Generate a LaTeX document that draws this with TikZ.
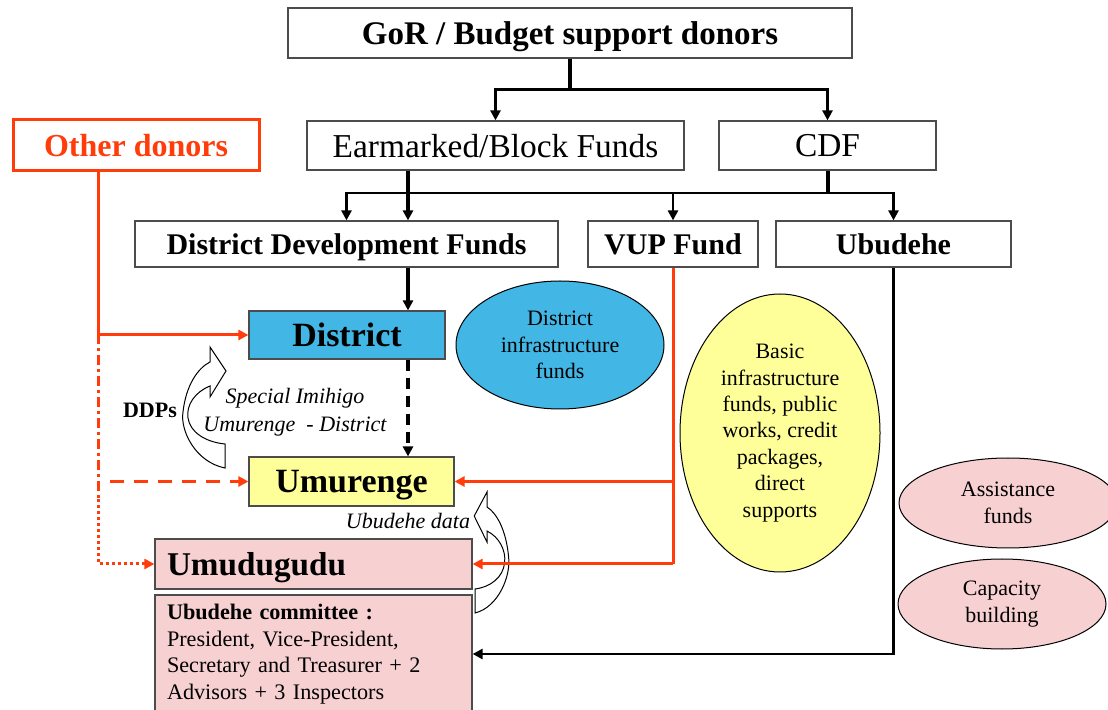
\documentclass[tikz,border=0pt]{standalone}
\usepackage{fontspec}
\setmainfont{Liberation Serif}
\usetikzlibrary{arrows.meta,calc,shapes.geometric}

\definecolor{donorred}{RGB}{255,60,10}
\definecolor{districtblue}{RGB}{66,183,230}
\definecolor{sectoryellow}{RGB}{255,255,153}
\definecolor{cellpink}{RGB}{247,208,210}

\tikzset{
  box/.style={draw=black!70, line width=0.6pt, inner sep=0pt, align=center},
  tbox/.style={box, text depth=0pt},
  fundell/.style={ellipse, draw=black, line width=0.5pt, inner sep=0pt, align=center,
    font=\fontsize{11}{13.2}\selectfont},
  flow/.style={line width=1.4pt, -{Triangle[length=5pt,width=5pt]}},
  trunkline/.style={line width=2pt},
  redflow/.style={donorred, line width=1.5pt, -{Triangle[length=5pt,width=5pt]}},
  curvarrow/.pic={
    \draw[fill=white, line width=0.5pt]
      (0,0) .. controls (-30,-6) and (-45,-38) .. (-42,-56)
            .. controls (-39,-83) and (-27,-100) .. (-15,-106)
      -- (-15,-121) -- (1,-97) -- (-15,-71) -- (-15,-82)
            .. controls (-30,-76) and (-39,-63) .. (-37,-50)
            .. controls (-35,-36) and (-20,-26) .. (0,-24) -- cycle;
  }
}

\begin{document}
\begin{tikzpicture}[x=0.5pt, y=-0.5pt]
    \useasboundingbox (0,0) rectangle (1108,710);

    % Top level
    \node[tbox, minimum width=282pt, minimum height=25pt, font=\bfseries\fontsize{16.5}{18}\selectfont]
        (gor) at (570,33) {GoR / Budget support donors};
    \node[tbox, minimum width=188.5pt, minimum height=24.5pt, font=\fontsize{16.7}{18}\selectfont]
        (earmark) at (495.5,145.5) {Earmarked/Block Funds};
    \node[tbox, minimum width=108.5pt, minimum height=24.5pt, font=\fontsize{16.7}{18}\selectfont]
        (cdf) at (827.5,145.5) {CDF};
    \node[tbox, draw=donorred, line width=1.5pt, minimum width=123pt, minimum height=25.5pt,
        text=donorred, font=\bfseries\fontsize{16}{18}\selectfont]
        (other) at (136,145.5) {Other donors};

    % Fund level
    \node[tbox, minimum width=211.5pt, minimum height=23pt, font=\bfseries\fontsize{15}{16}\selectfont]
        (ddf) at (346.5,244) {District Development Funds};
    \node[tbox, minimum width=85pt, minimum height=23pt, font=\bfseries\fontsize{15}{16}\selectfont]
        (vup) at (673,244) {VUP Fund};
    \node[tbox, minimum width=117.5pt, minimum height=23pt, font=\bfseries\fontsize{15}{16}\selectfont]
        (ubudehe) at (893.5,244) {Ubudehe};

    % Local levels
    \node[tbox, fill=districtblue, minimum width=98pt, minimum height=24pt,
        font=\bfseries\fontsize{17}{19}\selectfont]
        (district) at (347,335) {District};
    \node[tbox, fill=sectoryellow, minimum width=102.5pt, minimum height=24.5pt,
        font=\bfseries\fontsize{17}{19}\selectfont]
        (umurenge) at (351.5,481.5) {Umurenge};
    \node[tbox, fill=cellpink, minimum height=25pt, text width=146.5pt, inner xsep=6pt, align=left,
        font=\bfseries\fontsize{16.6}{19}\selectfont]
        (umudugudu) at (313.5,564) {Umudugudu};
    \node[box, fill=cellpink, minimum height=59pt, text width=146.5pt, inner xsep=6pt, align=left,
        font=\fontsize{11.1}{13.3}\selectfont]
        (committee) at (313.5,654) {\textbf{Ubudehe committee :}\\
        President, Vice-President,\\ Secretary and Treasurer + 2\\ Advisors + 3 Inspectors};

    % Funds ellipses
    \node[fundell, fill=districtblue, minimum width=104pt, minimum height=64pt]
        (infra) at (560,345) {District\\ infrastructure\\ funds};
    \node[fundell, fill=sectoryellow, minimum width=100pt, minimum height=139pt]
        (basic) at (780,433) {Basic\\ infrastructure\\ funds, public\\ works, credit\\ packages,\\ direct\\ supports};
    \node[fundell, fill=cellpink, minimum width=109pt, minimum height=45pt]
        (assist) at (1008,503) {Assistance\\ funds};
    \node[fundell, fill=cellpink, minimum width=104pt, minimum height=45pt]
        (capacity) at (1002,604) {Capacity\\ building};

    % Curved arrows and their labels
    \pic at (225,468) {curvarrow};
    \pic[xscale=-0.8] at (475,613) {curvarrow};
    \node[font=\bfseries\fontsize{11}{13}\selectfont] (ddps) at (150,410) {DDPs};
    \node[align=center, font=\itshape\fontsize{11}{14}\selectfont] (imihigo) at (295,412)
        {Special Imihigo\\ Umurenge\ \ - District};
    \node[font=\itshape\fontsize{11}{13}\selectfont] (ubdata) at (408,521) {Ubudehe data};

    % GoR split
    \draw[trunkline] (gor.south) -- ++(0,31) coordinate (split);
    \draw[flow] (split) -| (earmark.north);
    \draw[flow] (split) -| (cdf.north);

    % Earmarked and CDF bus
    \coordinate (trunk) at (408,193);
    \draw[trunkline] (earmark.south -| trunk) -- (trunk);
    \draw[trunkline] (cdf.south) -- (cdf.south |- trunk);
    \draw[line width=1.4pt] (trunk) -- (cdf.south |- trunk);
    \draw[flow] (trunk) -| (ddf.north);
    \draw[flow, line width=2pt] (trunk) -- (trunk |- ddf.north);
    \draw[flow] (cdf.south |- trunk) -| (vup.north);
    \draw[flow] (cdf.south |- trunk) -| (ubudehe.north);

    % District chain
    \draw[flow, line width=2pt] (ddf.south -| trunk) -- (district.north -| trunk);
    \draw[flow, line width=1.6pt, dash pattern=on 5.5pt off 3.5pt] (district.south -| trunk) -- (umurenge.north -| trunk);

    % VUP
    \draw[donorred, line width=1.5pt] (vup.south) -- (vup.south |- umudugudu.east);
    \draw[redflow] (vup.south |- umurenge.east) -- (umurenge.east);
    \draw[redflow] (vup.south |- umudugudu.east) -- (umudugudu.east);

    % Ubudehe
    \draw[flow] (ubudehe.south) |- (committee.east);

    % Other donors
    \coordinate (feed) at (98,334);
    \draw[redflow] (other.south -| feed) |- (district.west);
    \draw[donorred, line width=1.5pt, dash pattern=on 5pt off 2pt on 1.5pt off 2pt]
        (feed) -- ($(feed |- umurenge.west)+(0,18)$);
    \draw[redflow, dash pattern=on 1.5pt off 1.5pt]
        ($(feed |- umurenge.west)+(0,18)$) |- (umudugudu.west);
    \draw[redflow, dash pattern=on 7pt off 5pt]
        ($(feed |- umurenge.west)+(12,0)$) -- (umurenge.west);

\end{tikzpicture}
\end{document}
